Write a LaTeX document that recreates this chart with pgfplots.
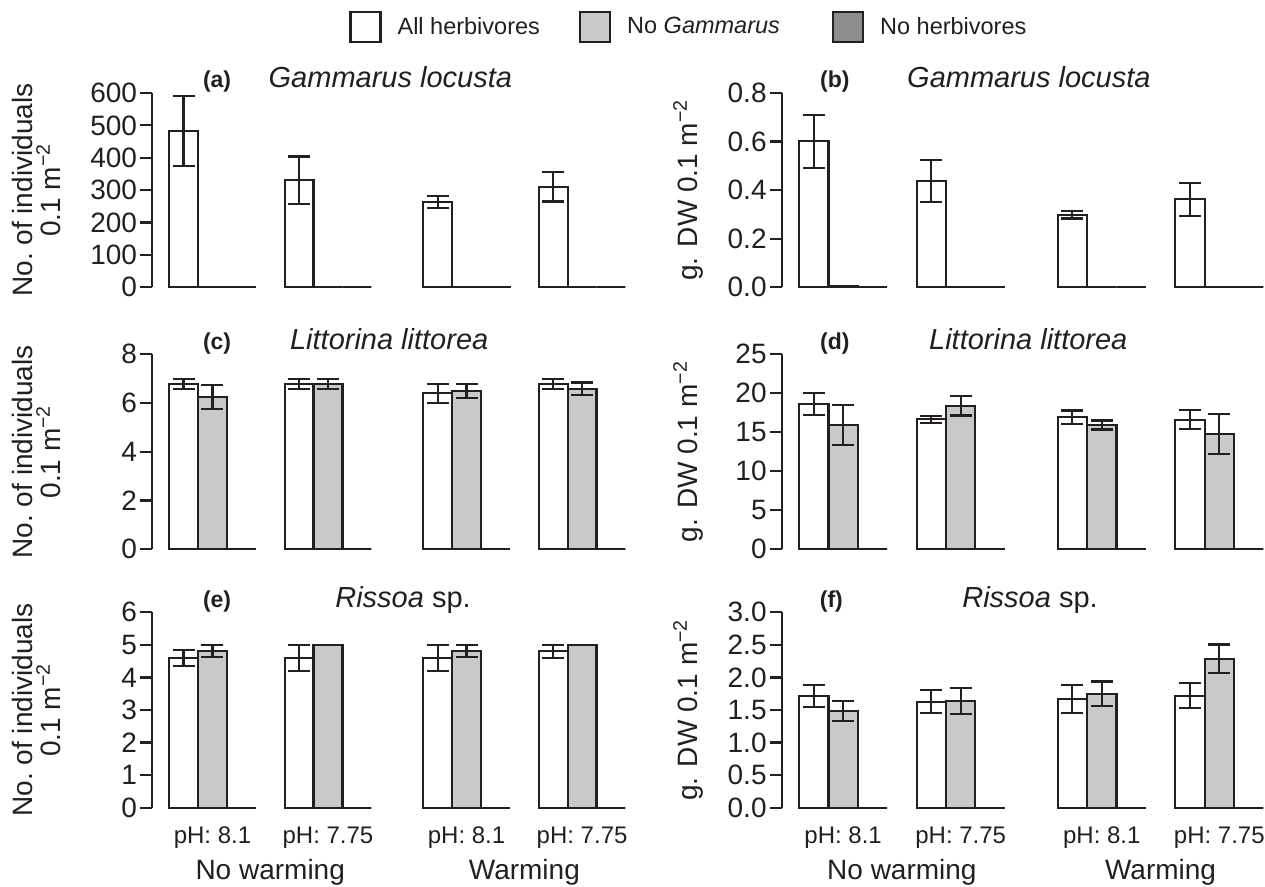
\documentclass[border=0pt]{standalone}
\usepackage{pgfplots}
\pgfplotsset{compat=1.18}
\usepackage{fontspec}
\setmainfont{Liberation Sans}
\definecolor{outl}{HTML}{231F20}
\definecolor{lgray}{HTML}{C8C9CB}
\definecolor{dgray}{HTML}{8C8D8F}
\newcommand{\tickfont}{\fontsize{14}{16}\selectfont}
\newcommand{\ylabfont}{\fontsize{14}{14}\selectfont}
\newcommand{\titfont}{\fontsize{14.5}{16}\selectfont\itshape}
\newcommand{\letfont}{\fontsize{11.5}{14}\selectfont\bfseries}
\newcommand{\grpfont}{\fontsize{14}{16}\selectfont}
\newcommand{\legfont}{\fontsize{11.75}{14}\selectfont}

\pgfplotsset{
  panel/.style={
    scale only axis, ybar, bar width=0.25,
    ymin=0, enlargelimits=false, clip=false,
    axis y line*=left, axis x line*=bottom,
    x axis line style={draw=none},
    xtick style={draw=none},
    y axis line style={line width=1.1pt, draw=outl},
    ytick style={line width=1.1pt, draw=outl},
    tick align=outside, major tick length=6pt,
    tick label style={font=\tickfont, text=outl},
    yticklabel style={inner xsep=1.5pt},
    /pgf/number format/assume math mode=true,
    xtick={0,1,2.2,3.2}, xticklabels={},
    xmin=-0.52, xmax=3.58,
    ylabel style={font=\ylabfont, align=center, inner sep=0pt, anchor=south, text=outl},
    error bars/y dir=both, error bars/y explicit,
    error bars/error mark=|,
    error bars/error bar style={line width=1.1pt, draw=outl},
    error bars/error mark options={line width=1.1pt, draw=outl, mark size=5.5pt},
    legend image code/.code={\draw[##1] (0pt,-7.5pt) rectangle (15pt,7.5pt);},
  },
  leftp/.style={panel, width=236.8pt,
    ylabel={No.\ of individuals\\0.1 m\textsuperscript{−2}},
    ylabel style={at={([xshift=-45.7pt]axis description cs:0,0.5)}}},
  rightp/.style={panel, width=241pt,
    ylabel={g. DW 0.1 m\textsuperscript{−2}},
    ylabel style={at={([xshift=-39.2pt]axis description cs:0,0.5)}}},
  bottomrow/.style={xticklabels={pH: 8.1, pH: 7.75, pH: 8.1, pH: 7.75},
    xticklabel style={anchor=base, yshift=-11.7pt, font=\fontsize{12}{14}\selectfont}},
  allh/.style={fill=white, draw=outl, line width=1.1pt, bar shift=-0.25},
  nogam/.style={fill=lgray, draw=outl, line width=1.1pt, bar shift=0},
  noherb/.style={fill=dgray, draw=outl, line width=1.1pt, bar shift=0.25},
}

\begin{document}
\begin{tikzpicture}
\useasboundingbox (0,0) rectangle (632.5pt,443.5pt);

% (a)
\begin{axis}[leftp, at={(76.2pt,299.85pt)}, anchor=south west, height=97.15pt,
  ymax=600, ytick={0,100,200,300,400,500,600},
  legend columns=3,
  legend style={at={([xshift=98.3pt,yshift=33pt]axis description cs:0,1)}, anchor=west,
    draw=none, fill=none, inner sep=0pt, font=\legfont, text=outl,
    /tikz/every odd column/.append style={column sep=6pt},
    /tikz/column 2/.style={column sep=17.5pt},
    /tikz/column 4/.style={column sep=24pt}},
  legend cell align=left]
\addplot[allh] coordinates {(0,483) +- (0,108) (1,331) +- (0,73) (2.2,264) +- (0,19) (3.2,310) +- (0,45)};
\addlegendentry{All herbivores}
\addplot[nogam] coordinates {(0,0) +- (0,0) (1,0) +- (0,0) (2.2,0) +- (0,0) (3.2,0) +- (0,0)};
\addlegendentry{No \textit{Gammarus}}
\addplot[noherb] coordinates {(0,0) +- (0,0) (1,0) +- (0,0) (2.2,2) +- (0,0) (3.2,0) +- (0,0)};
\addlegendentry{No herbivores}
\node[font=\letfont, anchor=base, text=outl] at (axis cs:0.04,600) [yshift=2.5pt] {(a)};
\node[font=\titfont, anchor=base, text=outl] at (axis cs:1.54,600) [yshift=2.5pt] {Gammarus locusta};
\end{axis}

% (b)
\begin{axis}[rightp, at={(391pt,299.85pt)}, anchor=south west, height=97.15pt,
  ymax=0.8, ytick={0,0.2,0.4,0.6,0.8}, yticklabels={0.0,0.2,0.4,0.6,0.8}]
\addplot[allh] coordinates {(0,0.601) +- (0,0.11) (1,0.437) +- (0,0.087) (2.2,0.299) +- (0,0.016) (3.2,0.362) +- (0,0.069)};
\addplot[nogam] coordinates {(0,0.004) +- (0,0) (1,0.002) +- (0,0) (2.2,0) +- (0,0) (3.2,0) +- (0,0)};
\addplot[noherb] coordinates {(0,0) +- (0,0) (1,0) +- (0,0) (2.2,0) +- (0,0) (3.2,0) +- (0,0)};
\node[font=\letfont, anchor=base, text=outl] at (axis cs:-0.07,0.8) [yshift=2.5pt] {(b)};
\node[font=\titfont, anchor=base, text=outl] at (axis cs:1.58,0.8) [yshift=2.5pt] {Gammarus locusta};
\end{axis}

% (c)
\begin{axis}[leftp, at={(76.2pt,168.85pt)}, anchor=south west, height=97.5pt,
  ymax=8, ytick={0,2,4,6,8}]
\addplot[allh] coordinates {(0,6.78) +- (0,0.19) (1,6.78) +- (0,0.19) (2.2,6.40) +- (0,0.39) (3.2,6.78) +- (0,0.19)};
\addplot[nogam] coordinates {(0,6.25) +- (0,0.48) (1,6.78) +- (0,0.19) (2.2,6.50) +- (0,0.28) (3.2,6.59) +- (0,0.25)};
\addplot[noherb] coordinates {(0,0) +- (0,0) (1,0) +- (0,0) (2.2,0) +- (0,0) (3.2,0) +- (0,0)};
\node[font=\letfont, anchor=base, text=outl] at (axis cs:0.04,8) [yshift=2.5pt] {(c)};
\node[font=\titfont, anchor=base, text=outl] at (axis cs:1.53,8) [yshift=2.5pt] {Littorina littorea};
\end{axis}

% (d)
\begin{axis}[rightp, at={(391pt,168.85pt)}, anchor=south west, height=97.5pt,
  ymax=25, ytick={0,5,10,15,20,25}]
\addplot[allh] coordinates {(0,18.63) +- (0,1.45) (1,16.67) +- (0,0.43) (2.2,16.92) +- (0,0.88) (3.2,16.62) +- (0,1.2)};
\addplot[nogam] coordinates {(0,15.94) +- (0,2.6) (1,18.42) +- (0,1.26) (2.2,15.94) +- (0,0.58) (3.2,14.74) +- (0,2.56)};
\addplot[noherb] coordinates {(0,0) +- (0,0) (1,0) +- (0,0) (2.2,0) +- (0,0) (3.2,0) +- (0,0)};
\node[font=\letfont, anchor=base, text=outl] at (axis cs:-0.07,25) [yshift=2.5pt] {(d)};
\node[font=\titfont, anchor=base, text=outl] at (axis cs:1.575,25) [yshift=2.5pt] {Littorina littorea};
\end{axis}

% (e)
\begin{axis}[leftp, bottomrow, at={(76.2pt,39.65pt)}, anchor=south west, height=97.7pt,
  ymax=6, ytick={0,1,2,3,4,5,6}]
\addplot[allh] coordinates {(0,4.6) +- (0,0.245) (1,4.6) +- (0,0.4) (2.2,4.6) +- (0,0.4) (3.2,4.8) +- (0,0.2)};
\addplot[nogam] coordinates {(0,4.81) +- (0,0.19) (1,5.0) +- (0,0) (2.2,4.81) +- (0,0.19) (3.2,5.0) +- (0,0)};
\addplot[noherb] coordinates {(0,0) +- (0,0) (1,0) +- (0,0) (2.2,0) +- (0,0) (3.2,0) +- (0,0)};
\node[font=\letfont, anchor=base, text=outl] at (axis cs:0.04,6) [yshift=2.5pt] {(e)};
\node[font=\titfont, anchor=base, text=outl] at (axis cs:1.65,6) [yshift=2.5pt] {Rissoa\upshape\ sp.};
\node[font=\grpfont, anchor=base, text=outl] at (axis cs:0.5,0) [yshift=-36pt] {No warming};
\node[font=\grpfont, anchor=base, text=outl] at (axis cs:2.7,0) [yshift=-36pt] {Warming};
\end{axis}

% (f)
\begin{axis}[rightp, bottomrow, at={(391pt,39.65pt)}, anchor=south west, height=97.7pt,
  ymax=3, ytick={0,0.5,1,1.5,2,2.5,3}, yticklabels={0.0,0.5,1.0,1.5,2.0,2.5,3.0}]
\addplot[allh] coordinates {(0,1.715) +- (0,0.17) (1,1.628) +- (0,0.175) (2.2,1.664) +- (0,0.215) (3.2,1.72) +- (0,0.195)};
\addplot[nogam] coordinates {(0,1.485) +- (0,0.15) (1,1.638) +- (0,0.205) (2.2,1.746) +- (0,0.19) (3.2,2.284) +- (0,0.22)};
\addplot[noherb] coordinates {(0,0) +- (0,0) (1,0) +- (0,0) (2.2,0) +- (0,0) (3.2,0) +- (0,0)};
\node[font=\letfont, anchor=base, text=outl] at (axis cs:-0.1,3) [yshift=2.5pt] {(f)};
\node[font=\titfont, anchor=base, text=outl] at (axis cs:1.59,3) [yshift=2.5pt] {Rissoa\upshape\ sp.};
\node[font=\grpfont, anchor=base, text=outl] at (axis cs:0.5,0) [yshift=-36pt] {No warming};
\node[font=\grpfont, anchor=base, text=outl] at (axis cs:2.7,0) [yshift=-36pt] {Warming};
\end{axis}
\end{tikzpicture}
\end{document}
